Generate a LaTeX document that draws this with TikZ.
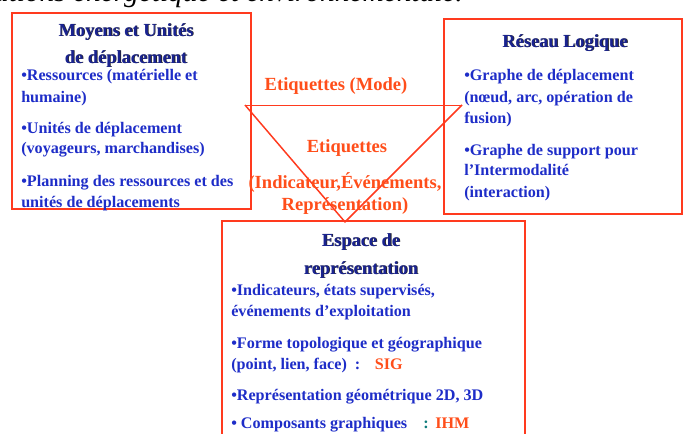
\documentclass[tikz,border=0pt]{standalone}
\usepackage{fontspec}
\setmainfont{Liberation Serif}
\definecolor{txtblue}{HTML}{1E2DC8}
\definecolor{ttlblue}{HTML}{1A2390}
\definecolor{lbl}{HTML}{FF4E1A}
\definecolor{frame}{HTML}{FF3A1E}
\definecolor{tealc}{HTML}{0E7C7B}
\begin{document}
\begin{tikzpicture}[x=0.75pt,y=-0.75pt,
  box/.style={draw=frame, line width=1.1pt},
  tri/.style={draw=frame, line width=1.1pt, line join=round},
  item/.style={anchor=base west, inner sep=0pt, text=txtblue, font=\fontsize{12.1pt}{14pt}\selectfont\bfseries},
  ttl/.style={anchor=base, inner sep=0pt, text=ttlblue, font=\fontsize{13.8pt}{15pt}\selectfont\bfseries},
  shd/.style={anchor=base, inner sep=0pt, text=black!85, font=\fontsize{13.8pt}{15pt}\selectfont\bfseries},
  lab/.style={anchor=base, inner sep=0pt, text=lbl, font=\fontsize{13.9pt}{15pt}\selectfont\bfseries},
  head/.style={anchor=base east, inner sep=0pt, text=black, font=\fontsize{22pt}{24pt}\selectfont\itshape}]
\useasboundingbox (0,0) rectangle (688,433);
\clip (0,0) rectangle (688,433);
\fill[white] (0,0) rectangle (688,433);
% cut-off heading
\node[head] (hd) at (463,1.5) {considérations énergétique et environnementale.};
% boxes
\coordinate (L1) at (12,13);  \coordinate (L2) at (251,209);
\coordinate (R1) at (444,19); \coordinate (R2) at (682,214);
\coordinate (B1) at (222,221); \coordinate (B2) at (525,445);
\draw[box] (L1) rectangle (L2);
\draw[box] (R1) rectangle (R2);
\draw[box] (B1) rectangle (B2);
% left box text
\node[shd] at (126.8,36.8) {Moyens et Unités};
\node[ttl] (lt1) at (126,36) {Moyens et Unités};
\node[shd] at (126.8,63.8) {de déplacement};
\node[ttl] (lt2) at (126,63) {de déplacement};
\node[item] (la1) at (21,80) {•Ressources (matérielle et};
\node[item] (la2) at (21,102) {humaine)};
\node[item] (lb1) at (21,133) {•Unités de déplacement};
\node[item] (lb2) at (21,153) {(voyageurs, marchandises)};
\node[item] (lc1) at (21,186) {•Planning des ressources et des};
\node[item] (lc2) at (21,207) {unités de déplacements};
% right box text
\node[shd] at (565.8,47.8) {Réseau Logique};
\node[ttl] (rt) at (565,47) {Réseau Logique};
\node[item] (ra1) at (464,80) {•Graphe de déplacement};
\node[item] (ra2) at (464,102) {(nœud, arc, opération de};
\node[item] (ra3) at (464,123) {fusion)};
\node[item] (rb1) at (464,155) {•Graphe de support pour};
\node[item] (rb2) at (464,175) {l’Intermodalité};
\node[item] (rb3) at (464,197) {(interaction)};
% bottom box text
\node[shd] at (361.8,246.8) {Espace de};
\node[ttl] (bt1) at (361,246) {Espace de};
\node[shd] at (361.8,274.8) {représentation};
\node[ttl] (bt2) at (361,274) {représentation};
\node[item] (ba1) at (231,295) {•Indicateurs, états supervisés,};
\node[item] (ba2) at (231,316) {événements d’exploitation};
\node[item] (bb1) at (231,348) {•Forme topologique et géographique};
\node[item] (bb2) at (231,369) {(point, lien, face)\ \ :\hspace{11pt}\textcolor{lbl}{SIG}};
\node[item] (bc1) at (231,400) {•Représentation géométrique 2D, 3D};
\node[item] (bd1) at (231,428) {• Composants graphiques\hspace{12pt}\textcolor{tealc}{:}\hspace{5pt}\textcolor{lbl}{IHM}};
% triangle
\coordinate (T1) at (245,105);
\coordinate (T2) at (462,105);
\coordinate (T3) at (345,222);
\draw[frame, line width=0.6pt] (T1) -- (T2);
\draw[tri] (T2) -- (T3) -- (T1);
% labels
\node[lab] (e0) at (336,90) {Etiquettes (Mode)};
\node[lab] (e1) at (347,152) {Etiquettes};
\node[lab] (e2) at (345,188) {(Indicateur,Événements,};
\node[lab] (e3) at (345,210) {Représentation)};
\end{tikzpicture}
\end{document}
